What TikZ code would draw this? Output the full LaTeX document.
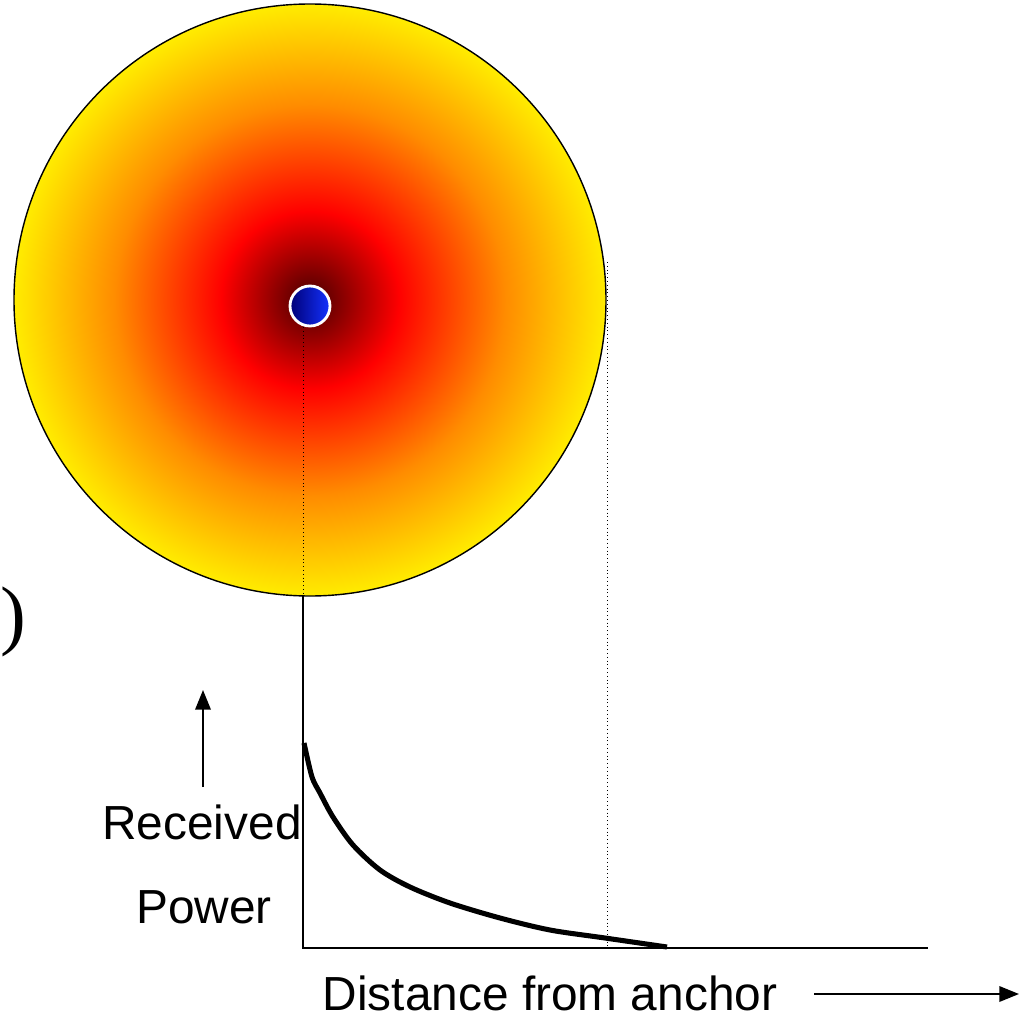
\documentclass[tikz,border=0pt]{standalone}
\usepackage{fontspec}
\setmainfont{Liberation Sans}
\newfontfamily\seriffont{Liberation Serif}
\usetikzlibrary{arrows.meta}
\definecolor{heatA}{RGB}{70,0,0}
\definecolor{heatB}{RGB}{255,0,0}
\definecolor{heatC}{RGB}{255,140,0}
\definecolor{heatD}{RGB}{255,236,0}
\definecolor{dotL}{RGB}{0,0,120}
\definecolor{dotR}{RGB}{20,50,255}
\pgfdeclareradialshading{heat}{\pgfpoint{0bp}{0bp}}{color(0bp)=(heatA); color(7.5bp)=(heatB); color(16.5bp)=(heatC); color(25bp)=(heatD); color(50bp)=(heatD)}
\tikzset{
  lbl/.style={font=\fontsize{34}{40}\selectfont, inner sep=0pt},
  axisline/.style={line width=1.4pt},
  guide/.style={line width=0.7pt, dotted},
  arr/.style={line width=1.4pt, -{Triangle[length=14pt,width=11pt]}},
}
\begin{document}
\begin{tikzpicture}[x=0.025cm,y=-0.025cm]
\useasboundingbox (0,0) rectangle (1019,1018);
% heat circle
\shade[shading=heat] (310,300) circle (296);
\draw[line width=1pt] (310,300) circle (296);
% guide lines
\coordinate (dotbottom) at (303,327);
\coordinate (circbottom) at (303,596);
\coordinate (origin) at (303,948);
\coordinate (xend) at (928,948);
\coordinate (rtop) at (607,262);
\coordinate (rbot) at (607,948);
\draw[guide] (dotbottom) -- (circbottom);
\draw[guide] (rtop) -- (rbot);
% anchor dot
\shade[left color=dotL, right color=dotR, draw=white, line width=2pt] (310,306) circle (20);
\node (anchor) at (310,306) {};
% axes
\draw[axisline] (circbottom) -- (origin) -- (xend);
% curve
\draw[line width=3.6pt] plot[smooth, tension=0.5] coordinates {(304,743) (312,777) (320,793) (333,817) (353,845) (380,870) (410,887) (450,903) (500,918) (550,930) (605,938) (667,947)};
% labels
\node[lbl] (recv) at (202,822) {Received};
\node[lbl] (pow) at (204,907) {Power};
\node[lbl] (dist) at (550,993) {Distance from anchor};
\node[inner sep=0pt, font=\seriffont\fontsize{55}{60}\selectfont] (paren) at (13,622) {)};
% arrows
\coordinate (upa) at (203,787);
\coordinate (upb) at (203,690);
\draw[arr] (upa) -- (upb);
\coordinate (ra) at (814,994);
\coordinate (rb) at (1019,994);
\draw[arr] (ra) -- (rb);
\end{tikzpicture}
\end{document}
